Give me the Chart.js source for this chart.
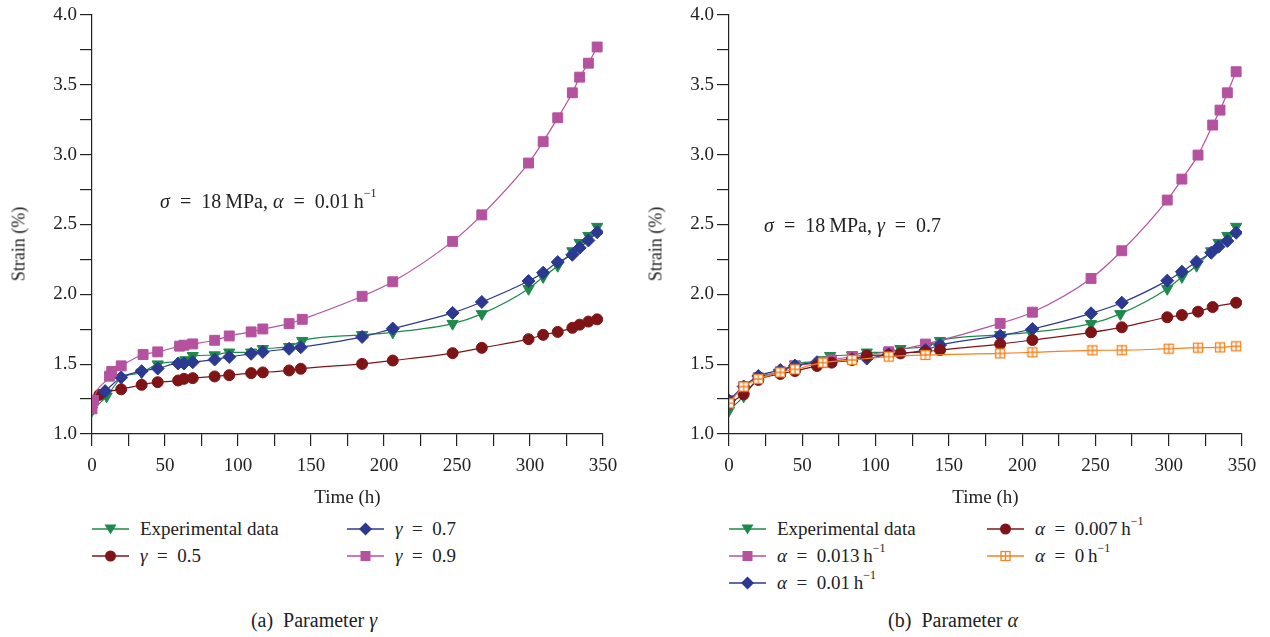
<!DOCTYPE html>
<html lang="en">
<head>
<meta charset="UTF-8">
<title>Strain vs time, parameters gamma and alpha</title>
<script src="https://cdn.jsdelivr.net/npm/chart.js"></script>
<style>
    body { margin: 0; background: #fff; font-family: 'Liberation Serif', 'DejaVu Serif', serif; color: #222; }
    #page { position: relative; width: 1270px; height: 637px; overflow: hidden; }
    canvas { position: absolute; top: 0; }
    .ytitle { position: absolute; font-size: 18px; white-space: nowrap; transform: translate(-50%, -50%) rotate(-90deg); }
    .note { position: absolute; font-size: 20px; white-space: nowrap; transform: translateY(-50%); }
    .caption { position: absolute; font-size: 20px; white-space: nowrap; transform: translate(-50%, -50%); }
    .item { position: absolute; height: 22px; display: flex; align-items: center; font-size: 19px; white-space: nowrap; }
    .item svg { position: absolute; left: 0; top: 3px; }
    sup { font-size: 12px; position: relative; top: -3px; }
</style>
</head>
<body>
<div id="page">
    <canvas id="chartA" width="635" height="510" style="left:0"></canvas>
    <canvas id="chartB" width="634" height="510" style="left:636px"></canvas>

    <div class="ytitle" style="left:19px; top:244px">Strain (%)</div>
    <div class="ytitle" style="left:656px; top:244px">Strain (%)</div>

    <div class="note" style="left:160px; top:201px"><i>σ</i>&ensp;=&ensp;18&thinsp;MPa, <i>α</i>&ensp;=&ensp;0.01&thinsp;h<sup>−1</sup></div>
    <div class="note" style="left:764px; top:225px"><i>σ</i>&ensp;=&ensp;18&thinsp;MPa, <i>γ</i>&ensp;=&ensp;0.7</div>

    <div id="legendA"></div>
    <div id="legendB"></div>

    <div class="caption" style="left:314px; top:620px">(a)&nbsp; Parameter <i>γ</i></div>
    <div class="caption" style="left:953px; top:620px">(b)&nbsp; Parameter <i>α</i></div>
</div>
<script>
    // experimental data (same in both panels)
    const expTime   = [0, 10, 20, 34, 45, 64, 69, 84, 94, 109, 117, 135, 144, 185, 206, 247, 267, 299, 309, 319, 329, 334, 340, 346];
    const expStrain = [1.17, 1.27, 1.40, 1.44, 1.50, 1.53, 1.56, 1.565, 1.585, 1.585, 1.61, 1.625, 1.668, 1.71, 1.728, 1.79, 1.86, 2.04, 2.125, 2.205, 2.31, 2.37, 2.42, 2.485];

    // panel (a): parameter gamma
    const g05Time   = [0, 5, 20, 34, 45, 59, 63, 69, 84, 94, 109, 117, 135, 143, 185, 206, 247, 267, 299, 309, 319, 329, 334, 340, 346];
    const g05Strain = [1.22, 1.28, 1.32, 1.352, 1.371, 1.383, 1.395, 1.40, 1.412, 1.421, 1.436, 1.441, 1.455, 1.467, 1.502, 1.526, 1.579, 1.617, 1.679, 1.71, 1.731, 1.76, 1.783, 1.805, 1.821];
    const g07Time   = [0, 9, 20, 34, 45, 59, 63, 69, 84, 94, 109, 117, 135, 143, 185, 206, 247, 267, 299, 309, 319, 329, 334, 340, 346];
    const g07Strain = [1.23, 1.307, 1.405, 1.45, 1.469, 1.505, 1.505, 1.514, 1.533, 1.552, 1.574, 1.588, 1.61, 1.621, 1.695, 1.755, 1.867, 1.945, 2.095, 2.155, 2.231, 2.283, 2.333, 2.386, 2.445];
    const g09Time   = [0, 1, 12, 13.5, 20, 35, 45, 60, 63, 69, 84, 94, 109, 117, 135, 144, 185, 206, 247, 267, 299, 309, 319, 329, 334, 340, 346];
    const g09Strain = [1.18, 1.24, 1.414, 1.448, 1.488, 1.569, 1.588, 1.629, 1.636, 1.645, 1.671, 1.702, 1.731, 1.752, 1.79, 1.821, 1.986, 2.09, 2.379, 2.569, 2.94, 3.093, 3.264, 3.443, 3.555, 3.655, 3.771];

    // panel (b): parameter alpha
    const a13Time   = [0, 10, 20, 35, 45, 64, 70, 84, 109, 134, 185, 207, 247, 268, 299, 309, 320, 330, 335, 340, 346];
    const a13Strain = [1.24, 1.34, 1.403, 1.446, 1.487, 1.513, 1.53, 1.554, 1.589, 1.644, 1.792, 1.872, 2.114, 2.312, 2.675, 2.825, 2.997, 3.212, 3.319, 3.443, 3.594];
    const a10Time   = [0, 10, 20, 35, 45, 60, 84, 94, 109, 134, 144, 185, 207, 247, 268, 299, 309, 319, 329, 334, 340, 346];
    const a10Strain = [1.24, 1.34, 1.415, 1.458, 1.49, 1.514, 1.535, 1.54, 1.57, 1.601, 1.637, 1.704, 1.752, 1.864, 1.94, 2.098, 2.162, 2.234, 2.298, 2.341, 2.382, 2.441];
    const a07Time   = [0, 10, 20, 35, 45, 60, 70, 84, 94, 109, 117, 134, 144, 185, 207, 247, 268, 299, 309, 320, 330, 346];
    const a07Strain = [1.22, 1.284, 1.387, 1.43, 1.451, 1.487, 1.511, 1.53, 1.563, 1.566, 1.577, 1.589, 1.601, 1.644, 1.673, 1.728, 1.764, 1.836, 1.852, 1.876, 1.909, 1.94];
    const a00Time   = [0, 10, 20, 35, 45, 64, 84, 109, 134, 185, 207, 248, 268, 300, 320, 335, 346];
    const a00Strain = [1.22, 1.339, 1.394, 1.441, 1.463, 1.511, 1.53, 1.554, 1.566, 1.577, 1.585, 1.599, 1.60, 1.611, 1.618, 1.62, 1.628];

    const GREEN = '#1e8a4a', RED = '#7f1416', BLUE = '#2b3990', PINK = '#b5529f', ORANGE = '#f5821f';

    Chart.defaults.font.family = "'Liberation Serif', 'DejaVu Serif', serif";
    Chart.defaults.font.size = 19;
    Chart.defaults.color = '#222';

    // open square with a cross, for alpha = 0
    function crossSquare(color) {
        const c = document.createElement('canvas');
        c.width = 12; c.height = 12;
        const g = c.getContext('2d');
        g.fillStyle = '#fff';
        g.fillRect(1, 1, 10, 10);
        g.strokeStyle = color;
        g.lineWidth = 1.3;
        g.strokeRect(1.5, 1.5, 9, 9);
        g.beginPath();
        g.moveTo(6, 1.5); g.lineTo(6, 10.5);
        g.moveTo(1.5, 6); g.lineTo(10.5, 6);
        g.stroke();
        return c;
    }

    function series(times, values, color, style, order) {
        const ds = {
            data: times.map((t, i) => ({ x: t, y: values[i] })),
            showLine: true,
            borderColor: color,
            backgroundColor: color,
            borderWidth: 1.2,
            pointBackgroundColor: color,
            pointBorderColor: color,
            pointBorderWidth: 1,
            cubicInterpolationMode: 'monotone',
            order: order
        };
        if (style === 'tri') { ds.pointStyle = 'triangle'; ds.rotation = 180; ds.pointRadius = 6.5; }
        if (style === 'circle') { ds.pointStyle = 'circle'; ds.pointRadius = 5.5; }
        if (style === 'diamond') { ds.pointStyle = 'rectRot'; ds.pointRadius = 6.5; }
        if (style === 'square') { ds.pointStyle = 'rect'; ds.pointRadius = 7; }
        if (style === 'cross') { ds.pointStyle = crossSquare(color); ds.pointRadius = 6; }
        return ds;
    }

    function makeOptions(yWidth, rightPad) {
        return {
            responsive: false,
            animation: false,
            layout: { padding: { top: 15, right: rightPad, bottom: 0, left: 0 } },
            plugins: { legend: { display: false }, tooltip: { enabled: false } },
            scales: {
                x: {
                    type: 'linear',
                    min: 0, max: 350,
                    afterFit: s => { s.height = 76; },
                    border: { display: true, color: '#222', width: 1.2 },
                    grid: { drawOnChartArea: false, drawTicks: true, tickLength: 12, color: '#222', lineWidth: 1.2 },
                    ticks: {
                        stepSize: 25, autoSkip: false, maxRotation: 0, padding: 9,
                        callback: v => (v % 50 === 0 ? String(v) : '')
                    },
                    title: { display: true, text: 'Time (h)', padding: { top: 0, bottom: 1 }, font: { size: 19 } }
                },
                y: {
                    min: 1, max: 4,
                    afterFit: s => { s.width = yWidth; },
                    border: { display: true, color: '#222', width: 1.2 },
                    grid: { drawOnChartArea: false, drawTicks: true, tickLength: 12, color: '#222', lineWidth: 1.2 },
                    ticks: {
                        stepSize: 0.25, autoSkip: false, padding: 3,
                        callback: v => (Math.abs(v * 2 - Math.round(v * 2)) < 1e-6 ? v.toFixed(1) : '')
                    }
                }
            }
        };
    }

    const setA = [
        { label: 'Experimental data', color: GREEN, style: 'tri', t: expTime, v: expStrain, order: 4 },
        { label: '<i>γ</i>&ensp;=&ensp;0.5', color: RED, style: 'circle', t: g05Time, v: g05Strain, order: 3 },
        { label: '<i>γ</i>&ensp;=&ensp;0.7', color: BLUE, style: 'diamond', t: g07Time, v: g07Strain, order: 2 },
        { label: '<i>γ</i>&ensp;=&ensp;0.9', color: PINK, style: 'square', t: g09Time, v: g09Strain, order: 1 }
    ];
    const setB = [
        { label: 'Experimental data', color: GREEN, style: 'tri', t: expTime, v: expStrain, order: 5 },
        { label: '<i>α</i>&ensp;=&ensp;0.013&thinsp;h<sup>−1</sup>', color: PINK, style: 'square', t: a13Time, v: a13Strain, order: 4 },
        { label: '<i>α</i>&ensp;=&ensp;0.01&thinsp;h<sup>−1</sup>', color: BLUE, style: 'diamond', t: a10Time, v: a10Strain, order: 3 },
        { label: '<i>α</i>&ensp;=&ensp;0.007&thinsp;h<sup>−1</sup>', color: RED, style: 'circle', t: a07Time, v: a07Strain, order: 2 },
        { label: '<i>α</i>&ensp;=&ensp;0&thinsp;h<sup>−1</sup>', color: ORANGE, style: 'cross', t: a00Time, v: a00Strain, order: 1 }
    ];

    new Chart(document.getElementById('chartA'), {
        type: 'scatter',
        data: { datasets: setA.map(s => series(s.t, s.v, s.color, s.style, s.order)) },
        options: makeOptions(92, 32)
    });
    new Chart(document.getElementById('chartB'), {
        type: 'scatter',
        data: { datasets: setB.map(s => series(s.t, s.v, s.color, s.style, s.order)) },
        options: makeOptions(93, 28)
    });

    // legend icons
    function icon(style, color) {
        let m = '';
        if (style === 'tri') m = `<polygon points="12.5,3.5 24.5,3.5 18.5,13.5" fill="${color}"/>`;
        if (style === 'circle') m = `<circle cx="18.5" cy="8" r="5.5" fill="${color}"/>`;
        if (style === 'diamond') m = `<polygon points="18.5,1.5 25,8 18.5,14.5 12,8" fill="${color}"/>`;
        if (style === 'square') m = `<rect x="13.5" y="3" width="10" height="10" fill="${color}"/>`;
        if (style === 'cross') m = `<rect x="14" y="3.5" width="9" height="9" fill="#fff" stroke="${color}" stroke-width="1.3"/>` +
            `<path d="M18.5 3.5V12.5M14 8H23" stroke="${color}" stroke-width="1.3"/>`;
        return `<svg width="37" height="16"><line x1="0" y1="8" x2="37" y2="8" stroke="${color}" stroke-width="1.5"/>${m}</svg>`;
    }

    function buildLegend(el, items, slots) {
        items.forEach((s, i) => {
            const [x, y] = slots[i];
            const d = document.createElement('div');
            d.className = 'item';
            d.style.left = x + 'px';
            d.style.top = (y - 11) + 'px';
            d.innerHTML = icon(s.style, s.color) + `<span style="margin-left:48px">${s.label}</span>`;
            el.appendChild(d);
        });
    }

    buildLegend(document.getElementById('legendA'), setA, [[92, 529], [92, 556], [347, 529], [347, 556]]);
    buildLegend(document.getElementById('legendB'), setB, [[729, 529], [729, 556], [729, 583], [987, 529], [987, 556]]);
</script>
</body>
</html>
